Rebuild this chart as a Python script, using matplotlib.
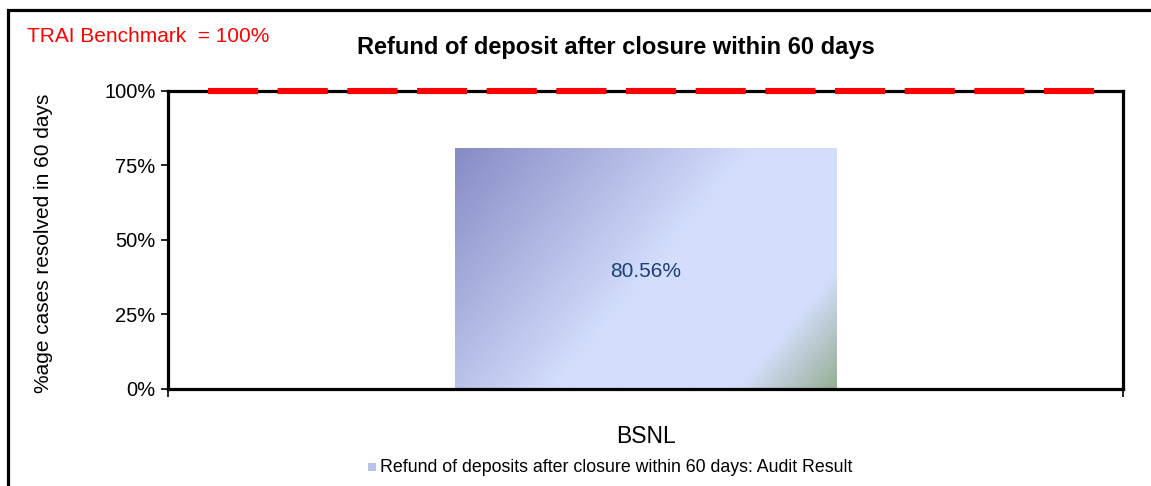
import matplotlib.pyplot as plt
import numpy as np
from matplotlib.colors import LinearSegmentedColormap
from matplotlib.patches import Rectangle
import matplotlib.ticker as ticker

plt.rcParams['font.family'] = ['Liberation Sans', 'DejaVu Sans']

categories = ['BSNL']
values = [80.56]
benchmark = 100
series_name = 'Refund of deposits after closure within 60 days: Audit Result'
title = 'Refund of deposit after closure within 60 days'
ylabel = '%age cases resolved in 60 days'
bench_text = 'TRAI Benchmark  = 100%'
yticks = [0, 25, 50, 75, 100]

fig = plt.figure(figsize=(11.51, 4.86), dpi=100)
ax = fig.add_axes([0.146, 0.1996, 0.8297, 0.6132])

# outer frame (only left and top edges are inside the picture)
fig.patches.append(Rectangle((8 / 1151, -0.2), 1.2, 1.2 - 9.5 / 486, transform=fig.transFigure,
                             fill=False, edgecolor='black', linewidth=2.3, clip_on=False))

ax.set_xlim(-0.5, len(categories) - 0.5)
ax.set_ylim(0, 100)

cmap = LinearSegmentedColormap.from_list('bar', [(0.0, '#878bc5'), (0.52, '#d4defc'),
                                                 (0.83, '#d4defc'), (1.0, '#97ae95')])
width = 0.4
fig.canvas.draw()
for i, v in enumerate(values):
    x0, x1 = i - width / 2, i + width / 2
    p0 = ax.transData.transform((x0, 0))
    p1 = ax.transData.transform((x1, v))
    wpx, hpx = p1[0] - p0[0], p1[1] - p0[1]
    xx, yy = np.meshgrid(np.linspace(0, wpx, 200), np.linspace(hpx, 0, 200))
    t = xx * 239 - yy * 200
    t = (t - t.min()) / (t.max() - t.min())
    ax.imshow(t, cmap=cmap, extent=(x0, x1, 0, v), aspect='auto', zorder=1, interpolation='bilinear')
    ax.text(i, v / 2 - 1, f'{v:.2f}%', ha='center', va='center', fontsize=15, color='#1c3f78', zorder=3)

ax.axhline(benchmark, color='#ff0000', linewidth=4.4, dashes=(8.2, 3.2), zorder=4, clip_on=False,
           xmin=0.0419, xmax=0.9761)

for s in ['left', 'bottom', 'top', 'right']:
    ax.spines[s].set_linewidth(2.3)
    ax.spines[s].set_color('black')

ax.set_yticks(yticks)
ax.yaxis.set_major_formatter(ticker.FuncFormatter(lambda y, p: f'{int(y)}%'))
ax.tick_params(axis='y', direction='out', length=5, width=1.2, labelsize=14.5, pad=4)
ax.set_xticks([-0.5, 0.5])
ax.set_xticklabels([])
ax.tick_params(axis='x', which='major', direction='out', length=6, width=1.2)
ax.set_xticks(range(len(categories)), minor=True)
ax.set_xticklabels(categories, minor=True, fontsize=16.5)
ax.tick_params(axis='x', which='minor', length=0, pad=26)
ax.set_ylabel(ylabel, fontsize=15)
ax.yaxis.set_label_coords(-0.12, 0.49)

fig.text(616 / 1151, 1 - 47 / 486, title, ha='center', va='center', fontsize=17, fontweight='bold')
fig.text(27 / 1151, 1 - 37 / 486, bench_text, ha='left', va='center', fontsize=15, color='#ff0000')

# legend
lx = 372 / 1151
ly = 1 - 467 / 486
fig.patches.append(Rectangle((lx - 4 / 1151, ly - 4 / 486), 8 / 1151, 8 / 486, transform=fig.transFigure,
                             facecolor='#b8c0ec', edgecolor='none'))
fig.text(lx + 8 / 1151, ly, series_name, ha='left', va='center', fontsize=12.8)

fig.savefig('out.png', dpi=100)
